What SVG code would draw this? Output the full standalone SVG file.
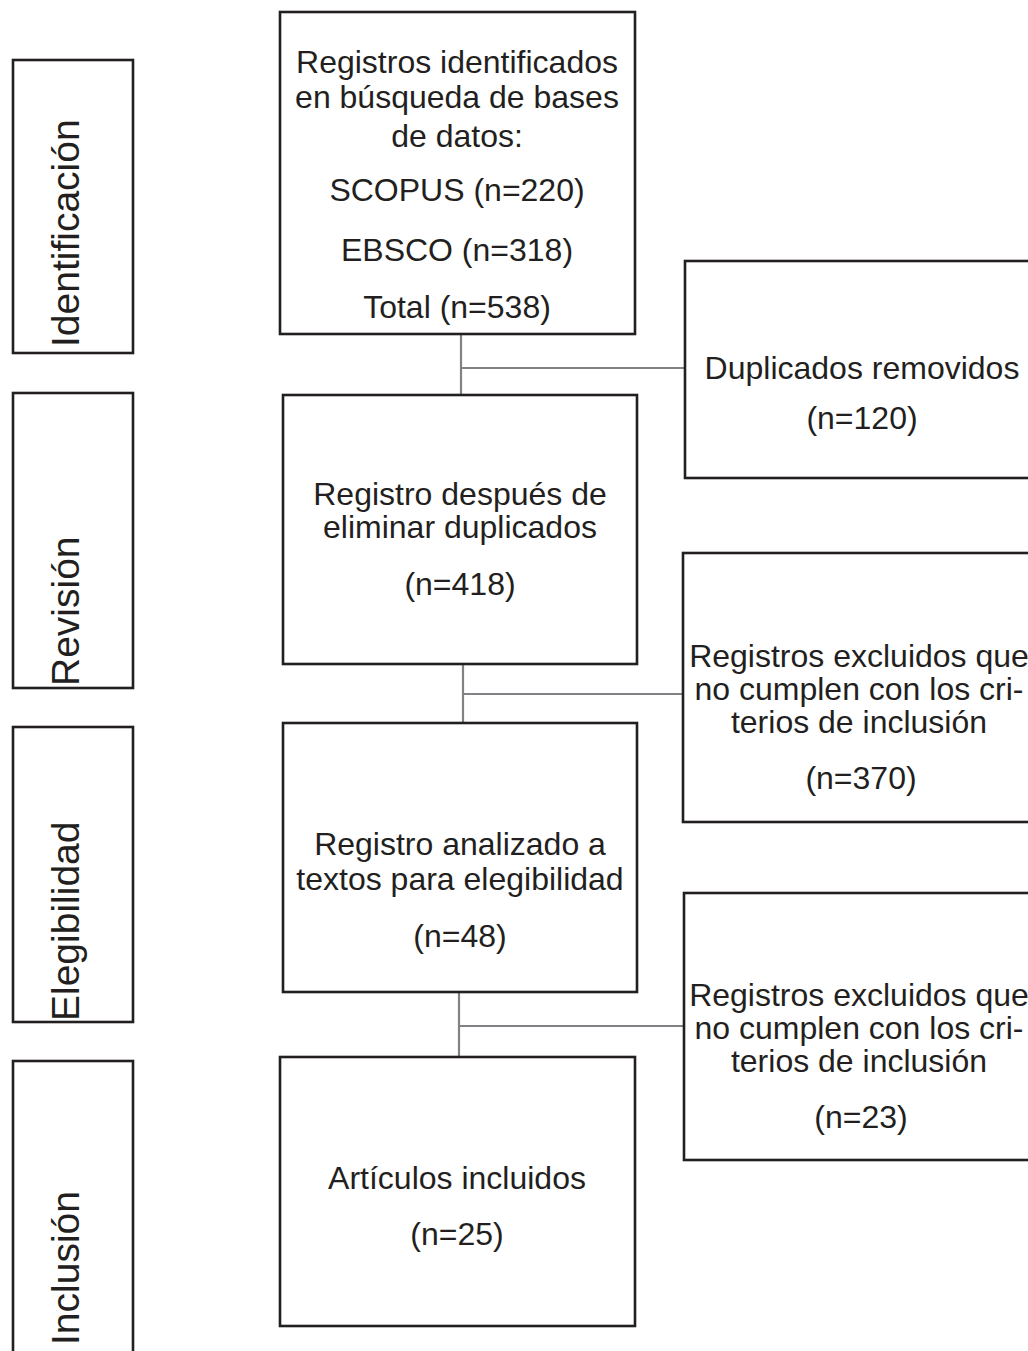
<svg xmlns="http://www.w3.org/2000/svg" width="1028" height="1351" viewBox="0 0 1028 1351">
<style>
.box{fill:#fff;stroke:#231f20;stroke-width:2.6}
.t{font-family:"Liberation Sans",Arial,Helvetica,sans-serif;font-size:32px;fill:#231f20;text-anchor:middle}
.lab{font-family:"Liberation Sans",Arial,Helvetica,sans-serif;font-size:39px;fill:#231f20;text-anchor:start}
.con{fill:none;stroke:#808285;stroke-width:2.2}
</style>
<rect width="1028" height="1351" fill="#fff"/>
<g id="connectors">
<path class="con" d="M461,334 V395 M461,368 H685"/>
<path class="con" d="M463,664 V723 M463,694 H683"/>
<path class="con" d="M459,992 V1057 M459,1026 H684"/>
</g>
<g id="stage-identificacion">
<rect class="box" x="13" y="60" width="120" height="293"/>
<text class="lab" transform="translate(79,347) rotate(-90)">Identificación</text>
</g>
<g id="stage-revision">
<rect class="box" x="13" y="393" width="120" height="295"/>
<text class="lab" transform="translate(79,686) rotate(-90)">Revisión</text>
</g>
<g id="stage-elegibilidad">
<rect class="box" x="13" y="727" width="120" height="295"/>
<text class="lab" transform="translate(79,1021) rotate(-90)">Elegibilidad</text>
</g>
<g id="stage-inclusion">
<rect class="box" x="13" y="1061" width="120" height="300"/>
<text class="lab" transform="translate(79,1345) rotate(-90)">Inclusión</text>
</g>
<g id="node-identificados">
<rect class="box" x="280" y="12" width="355" height="322"/>
<text class="t" x="457" y="73">Registros identificados</text>
<text class="t" x="457" y="108">en búsqueda de bases</text>
<text class="t" x="457" y="147">de datos:</text>
<text class="t" x="457" y="201">SCOPUS (n=220)</text>
<text class="t" x="457" y="261">EBSCO (n=318)</text>
<text class="t" x="457" y="318">Total (n=538)</text>
</g>
<g id="node-duplicados">
<rect class="box" x="685" y="261" width="360" height="217"/>
<text class="t" x="862" y="379">Duplicados removidos</text>
<text class="t" x="862" y="429">(n=120)</text>
</g>
<g id="node-despues">
<rect class="box" x="283" y="395" width="354" height="269"/>
<text class="t" x="460" y="505">Registro después de</text>
<text class="t" x="460" y="538">eliminar duplicados</text>
<text class="t" x="460" y="595">(n=418)</text>
</g>
<g id="node-excluidos1">
<rect class="box" x="683" y="553" width="360" height="269"/>
<text class="t" x="859" y="667">Registros excluidos que</text>
<text class="t" x="859" y="700">no cumplen con los cri-</text>
<text class="t" x="859" y="733">terios de inclusión</text>
<text class="t" x="861" y="789">(n=370)</text>
</g>
<g id="node-analizado">
<rect class="box" x="283" y="723" width="354" height="269"/>
<text class="t" x="460" y="855">Registro analizado a</text>
<text class="t" x="460" y="890">textos para elegibilidad</text>
<text class="t" x="460" y="947">(n=48)</text>
</g>
<g id="node-excluidos2">
<rect class="box" x="684" y="893" width="360" height="267"/>
<text class="t" x="859" y="1006">Registros excluidos que</text>
<text class="t" x="859" y="1039">no cumplen con los cri-</text>
<text class="t" x="859" y="1072">terios de inclusión</text>
<text class="t" x="861" y="1128">(n=23)</text>
</g>
<g id="node-incluidos">
<rect class="box" x="280" y="1057" width="355" height="269"/>
<text class="t" x="457" y="1189">Artículos incluidos</text>
<text class="t" x="457" y="1245">(n=25)</text>
</g>
</svg>
